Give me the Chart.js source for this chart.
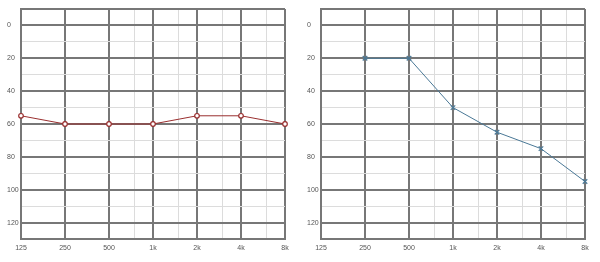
<!DOCTYPE html>
<html>
<head>
<meta charset="utf-8">
<script src="https://cdn.jsdelivr.net/npm/chart.js@4/dist/chart.umd.min.js"></script>
<style>
  body { margin: 0; background: #fff; }
  .wrap { display: flex; width: 600px; height: 262px; }
  .box { position: relative; width: 300px; height: 262px; }
</style>
</head>
<body>
<div class="wrap">
  <div class="box"><canvas id="leftChart"></canvas></div>
  <div class="box"><canvas id="rightChart"></canvas></div>
</div>
<script>
// audiogram data
const freqTicks = [125, 250, 500, 1000, 2000, 4000, 8000];
const freqLabels = ['125', '250', '500', '1k', '2k', '4k', '8k'];
const minorFreqs = [750, 1500, 3000, 6000];
const dbLabelTicks = [0, 20, 40, 60, 80, 100, 120];

const leftFreqs = [125, 250, 500, 1000, 2000, 4000, 8000];
const leftValues = [55, 60, 60, 60, 55, 55, 60];

const rightFreqs = [250, 500, 1000, 2000, 4000, 8000];
const rightValues = [20, 20, 50, 65, 75, 95];

const majorColor = '#777';
const minorColor = '#dcdcdc';
const tickFont = { family: 'Liberation Sans', size: 7 };

// frequency -> octaves above 125 Hz
const oct = f => Math.log2(f / 125);
const isMajorOct = v => Math.abs(v - Math.round(v)) < 1e-6;
const isMajorDb = v => v % 20 === 0 || v === -10;

function makeChart(id, freqs, values, color, pointStyle) {
    const ctx = document.getElementById(id).getContext('2d');
    return new Chart(ctx, {
        type: 'line',
        data: {
            datasets: [{
                data: freqs.map((f, i) => ({ x: oct(f), y: values[i] })),
                borderColor: color,
                borderWidth: 1,
                pointStyle: pointStyle,
                pointRadius: pointStyle === 'circle' ? 2.3 : 3.2,
                pointBorderWidth: 1.2,
                pointBackgroundColor: '#fff',
                pointBorderColor: color,
                clip: false
            }]
        },
        options: {
            responsive: true,
            maintainAspectRatio: false,
            animation: false,
            layout: { padding: { left: 7, right: 15, top: 9, bottom: 0 } },
            plugins: { legend: { display: false }, tooltip: { enabled: false } },
            scales: {
                x: {
                    type: 'linear',
                    min: 0,
                    max: 6,
                    afterBuildTicks: function(axis) {
                        axis.ticks = freqTicks.concat(minorFreqs)
                            .map(oct)
                            .sort((a, b) => a - b)
                            .map(v => ({ value: v }));
                    },
                    afterFit: function(axis) { axis.height = 23; },
                    grid: {
                        drawTicks: false,
                        color: c => isMajorOct(c.tick.value) ? majorColor : minorColor,
                        lineWidth: c => isMajorOct(c.tick.value) ? 2 : 1
                    },
                    border: { color: majorColor, width: 2 },
                    ticks: {
                        autoSkip: false,
                        maxRotation: 0,
                        padding: 5,
                        color: '#555',
                        font: tickFont,
                        callback: v => isMajorOct(v) ? freqLabels[Math.round(v)] : ''
                    }
                },
                y: {
                    reverse: true,
                    min: -10,
                    max: 130,
                    afterFit: function(axis) { axis.width = 14; },
                    grid: {
                        drawTicks: false,
                        color: c => isMajorDb(c.tick.value) ? majorColor : minorColor,
                        lineWidth: c => isMajorDb(c.tick.value) ? 2 : 1
                    },
                    border: { color: majorColor, width: 2 },
                    ticks: {
                        stepSize: 10,
                        crossAlign: 'far',
                        color: '#555',
                        font: tickFont,
                        callback: v => dbLabelTicks.includes(v) ? String(v) : ''
                    }
                }
            }
        }
    });
}

makeChart('leftChart', leftFreqs, leftValues, '#9a2f2f', 'circle');
makeChart('rightChart', rightFreqs, rightValues, '#4a7896', 'crossRot');
</script>
</body>
</html>
